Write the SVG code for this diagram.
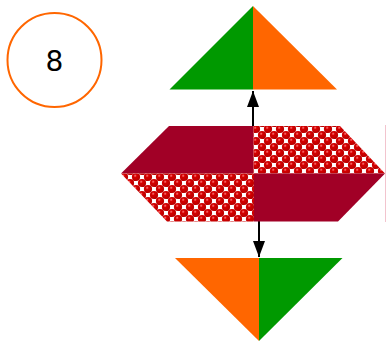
<svg xmlns="http://www.w3.org/2000/svg" width="386" height="343" viewBox="0 0 386 343">
<defs>
<style>
.dark{fill:#a10026}
.pat{fill:url(#balls)}
.green{fill:#009900}
.orange{fill:#ff6600}
.conn{stroke:#000;stroke-width:2;fill:none}
</style>
<radialGradient id="ballg" cx="0.4" cy="0.35" r="0.65">
<stop offset="0" stop-color="#ff8080"/>
<stop offset="0.3" stop-color="#d40000"/>
<stop offset="1" stop-color="#b80000"/>
</radialGradient>
<pattern id="balls" width="12" height="12" patternUnits="userSpaceOnUse" x="253" y="126">
<rect width="12" height="12" fill="#ffffff"/>
<circle cx="3" cy="3" r="4.1" fill="url(#ballg)"/>
<circle cx="9" cy="9" r="4.1" fill="url(#ballg)"/>
<circle cx="-3" cy="9" r="4.1" fill="url(#ballg)"/>
<circle cx="9" cy="-3" r="4.1" fill="url(#ballg)"/>
<circle cx="-3" cy="-3" r="4.1" fill="url(#ballg)"/>
<circle cx="15" cy="3" r="4.1" fill="url(#ballg)"/>
<circle cx="3" cy="15" r="4.1" fill="url(#ballg)"/>
<circle cx="15" cy="15" r="4.1" fill="url(#ballg)"/>
</pattern>
<marker id="ah" markerWidth="16" markerHeight="12" refX="16" refY="6" orient="auto" markerUnits="userSpaceOnUse">
<path d="M0,0 L16,6 L0,12 Z" fill="#000"/>
</marker>
</defs>
<g id="connectors">
<line class="conn" x1="253" y1="126" x2="253" y2="91" marker-end="url(#ah)"/>
<line class="conn" x1="259" y1="221" x2="259" y2="257" marker-end="url(#ah)"/>
</g>
<g id="node-circle">
<circle cx="54.5" cy="60" r="47" fill="#ffffff" stroke="#ff6600" stroke-width="2"/>
<text x="54.5" y="71" text-anchor="middle" font-family="DejaVu Sans, sans-serif" font-size="28" fill="#000">8</text>
</g>
<g id="node-top">
<polygon class="green" points="253,6 253,89.5 169.5,89.5"/>
<polygon class="orange" points="253,6 337,89.5 253,89.5"/>
</g>
<g id="node-middle">
<polygon class="dark" points="121,173.5 169,126 253.5,126 253.5,173.5"/>
<polygon class="pat" points="253.5,126 340,126 385,173.5 253.5,173.5"/>
<polygon class="pat" points="121,173.5 254,173.5 254,221.5 167,221.5"/>
<polygon class="dark" points="254,173.5 385,173.5 338,221.5 254,221.5"/>
<line x1="385.5" y1="125" x2="385.5" y2="222" stroke="#f2c4ce" stroke-width="1"/>
</g>
<g id="node-bottom">
<polygon class="orange" points="175,258 259,258 259,341"/>
<polygon class="green" points="259,258 342.5,258 259,341"/>
</g>
</svg>
